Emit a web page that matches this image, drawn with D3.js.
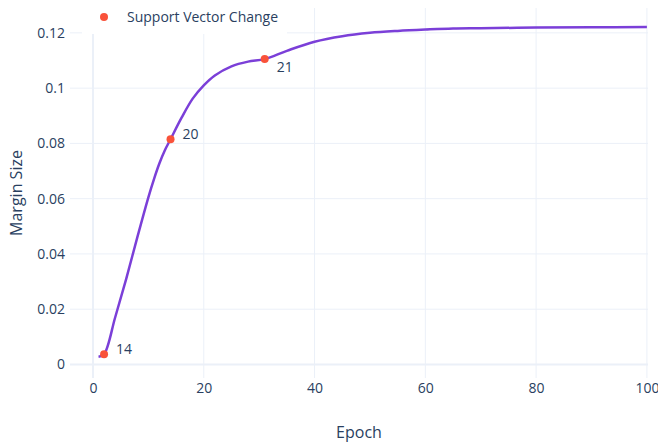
<!DOCTYPE html>
<html>
<head>
<meta charset="utf-8">
<script src="https://cdn.jsdelivr.net/npm/d3@7"></script>
<style>
  body { margin: 0; background: #fff; }
  text { font-family: "Open Sans", sans-serif; fill: #2a3f5f; }
</style>
</head>
<body>
<svg id="line-chart"></svg>
<script>
// margin size per epoch
let epochs = [1, 2, 4, 6, 8, 10, 11, 12, 13, 14, 16, 18, 20, 22, 25, 28, 31, 35, 40, 45, 50, 55, 60, 65, 70, 80, 90, 100];
let margins = [0.0028, 0.0037, 0.017, 0.031, 0.046, 0.0605, 0.0670, 0.0728, 0.0776, 0.0815, 0.0893, 0.0962, 0.1010, 0.1046, 0.1079,
  0.1096, 0.1105, 0.1135, 0.1168, 0.1188, 0.1200, 0.1207, 0.1212, 0.1216, 0.1217, 0.1219, 0.1220, 0.1221];

// support vector changes
let changeEpochs = [2, 14, 31];
let changeMargins = [0.0037, 0.0815, 0.1105];
let changeLabels = ['14', '20', '21'];
let changeTextPos = ['top right', 'top right', 'bottom right'];

let xTicks = [0, 20, 40, 60, 80, 100];
let yTicks = [0, 0.02, 0.04, 0.06, 0.08, 0.1, 0.12];

let config = { svg: {}, plot: {} };
config.svg.width = 658;
config.svg.height = 443;
config.plot.left = 70;
config.plot.right = 648;
config.plot.top = 8;
config.plot.bottom = 378;

let gridColor = '#ebf0f8';
let lineColor = '#7b3fd8';
let markerColor = '#f9523a';

let svg = d3.select('#line-chart')
  .attr('width', config.svg.width)
  .attr('height', config.svg.height);

let x = d3.scaleLinear().domain([-4.15, 100.2]).range([config.plot.left, config.plot.right]);
let y = d3.scaleLinear().domain([-0.0049, 0.129]).range([config.plot.bottom, config.plot.top]);

// grid lines
let grid = svg.append('g').attr('class', 'grid');
grid.selectAll('line.v')
  .data(xTicks)
  .join('line')
  .attr('x1', d => x(d)).attr('x2', d => x(d))
  .attr('y1', config.plot.top).attr('y2', config.plot.bottom)
  .attr('stroke', gridColor)
  .attr('stroke-width', d => d === 0 ? 2 : 1);
grid.selectAll('line.h')
  .data(yTicks)
  .join('line')
  .attr('x1', config.plot.left).attr('x2', config.plot.right)
  .attr('y1', d => y(d)).attr('y2', d => y(d))
  .attr('stroke', gridColor)
  .attr('stroke-width', d => d === 0 ? 2 : 1);

// axes
let xAxis = d3.axisBottom(x).tickValues(xTicks).tickSize(0).tickPadding(5).tickFormat(d3.format('d'));
let xGroup = svg.append('g').attr('transform', translate(0, config.plot.bottom)).call(xAxis);
xGroup.select('.domain').remove();

let yAxis = d3.axisLeft(y).tickValues(yTicks).tickSize(0).tickPadding(5).tickFormat(d => d === 0 ? '0' : String(+d.toFixed(2)));
let yGroup = svg.append('g').attr('transform', translate(config.plot.left, 0)).call(yAxis);
yGroup.select('.domain').remove();

svg.selectAll('.tick text')
  .attr('font-family', '"Open Sans", sans-serif')
  .attr('font-size', 14)
  .attr('fill', '#2a3f5f');

// axis titles
svg.append('text')
  .attr('x', (config.plot.left + config.plot.right) / 2)
  .attr('y', 438)
  .attr('text-anchor', 'middle')
  .attr('font-size', 16)
  .text('Epoch');

svg.append('text')
  .attr('transform', 'translate(22,' + ((config.plot.top + config.plot.bottom) / 2) + ') rotate(-90)')
  .attr('text-anchor', 'middle')
  .attr('font-size', 16)
  .text('Margin Size');

// legend box (white background hides grid under it)
svg.append('rect')
  .attr('x', 82).attr('y', 0)
  .attr('width', 205).attr('height', 34)
  .attr('fill', '#fff');
svg.append('circle')
  .attr('cx', 104).attr('cy', 17).attr('r', 4)
  .attr('fill', markerColor);
svg.append('text')
  .attr('x', 127).attr('y', 22)
  .attr('font-size', 14)
  .text('Support Vector Change');

// margin line
let pairs = epochs.map((e, i) => ({ e: e, m: margins[i] }));
svg.append('path')
  .datum(pairs)
  .attr('fill', 'none')
  .attr('stroke', lineColor)
  .attr('stroke-width', 2.5)
  .attr('d', d3.line()
    .x(d => x(d.e))
    .y(d => y(d.m))
    .curve(d3.curveCatmullRom.alpha(0.5)));

// change markers + labels
let changes = changeEpochs.map((e, i) => ({ e: e, m: changeMargins[i], label: changeLabels[i], pos: changeTextPos[i] }));
svg.append('g').selectAll('circle')
  .data(changes)
  .join('circle')
  .attr('cx', d => x(d.e))
  .attr('cy', d => y(d.m))
  .attr('r', 4)
  .attr('fill', markerColor);

svg.append('g').selectAll('text')
  .data(changes)
  .join('text')
  .attr('x', d => x(d.e) + 12)
  .attr('y', d => y(d.m) + (d.pos === 'top right' ? 0 : 13))
  .attr('font-size', 14)
  .text(d => d.label);

// helper method to make translating easier
function translate(x, y) {
  return 'translate(' + x + ',' + y + ')';
}
</script>
</body>
</html>
